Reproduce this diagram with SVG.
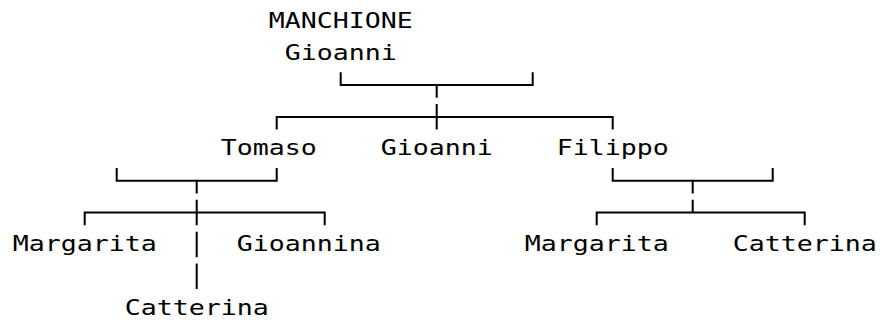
<svg xmlns="http://www.w3.org/2000/svg" width="881" height="322" viewBox="0 0 881 322">
<style>
.t{font-family:"DejaVu Sans Mono","Liberation Mono",monospace;font-size:21px;fill:#000}
.c{fill:none;stroke:#000;stroke-width:2;stroke-linecap:butt;stroke-linejoin:miter}
</style>
<rect width="881" height="322" fill="#fff"/>
<g id="connectors" class="c">
<path d="M340.7,72.2 V85 H532.7 V72.2 M436.7,85 V97.7"/>
<path d="M276.7,129.6 V116.9 H612.7 V129.6 M436.7,104.1 V129.6"/>
<path d="M116.7,167.9 V180.7 H276.7 V167.9 M196.7,180.7 V193.4"/>
<path d="M84.7,225.3 V212.6 H324.7 V225.3 M196.7,199.8 V225.3"/>
<path d="M196.7,231.7 V257.2 M196.7,263.6 V289.1"/>
<path d="M612.7,167.9 V180.7 H772.7 V167.9 M692.7,180.7 V193.4"/>
<path d="M596.7,225.3 V212.6 H804.7 V225.3 M692.7,199.8 V212.6"/>
</g>
<g id="manchione-gioanni">
<text class="t" x="268.7" y="27.7" textLength="144" lengthAdjust="spacingAndGlyphs">MANCHIONE</text>
<text class="t" x="284.7" y="59.6" textLength="112" lengthAdjust="spacingAndGlyphs">Gioanni</text>
</g>
<g id="tomaso"><text class="t" x="220.7" y="155.3" textLength="96" lengthAdjust="spacingAndGlyphs">Tomaso</text></g>
<g id="gioanni"><text class="t" x="380.7" y="155.3" textLength="112" lengthAdjust="spacingAndGlyphs">Gioanni</text></g>
<g id="filippo"><text class="t" x="556.7" y="155.3" textLength="112" lengthAdjust="spacingAndGlyphs">Filippo</text></g>
<g id="margarita-t"><text class="t" x="12.7" y="251" textLength="144" lengthAdjust="spacingAndGlyphs">Margarita</text></g>
<g id="gioannina"><text class="t" x="236.7" y="251" textLength="144" lengthAdjust="spacingAndGlyphs">Gioannina</text></g>
<g id="catterina-t"><text class="t" x="124.7" y="314.8" textLength="144" lengthAdjust="spacingAndGlyphs">Catterina</text></g>
<g id="margarita-f"><text class="t" x="524.7" y="251" textLength="144" lengthAdjust="spacingAndGlyphs">Margarita</text></g>
<g id="catterina-f"><text class="t" x="732.7" y="251" textLength="144" lengthAdjust="spacingAndGlyphs">Catterina</text></g>
</svg>
